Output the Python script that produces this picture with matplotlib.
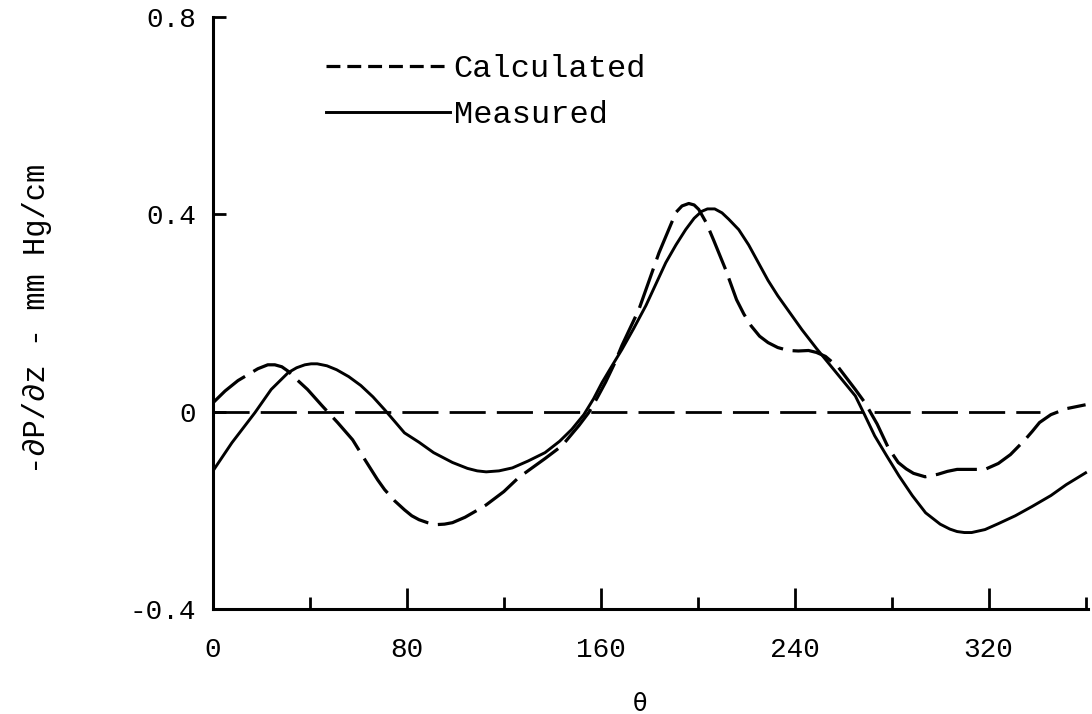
import matplotlib
matplotlib.use("Agg")
import matplotlib.pyplot as plt
from matplotlib.ticker import FixedLocator, FixedFormatter

plt.rcParams['lines.scale_dashes'] = False

# ---- data ----
meas_x = [0, 7.8, 17.3, 24, 31, 34.5, 37.9, 40.5, 43, 47, 51, 56, 61, 66, 70.8, 75, 79, 85,
          91, 98.8, 105, 109, 112.7, 118, 123.5, 130, 137, 143, 148, 153, 157, 160.5,
          164.5, 168.7, 173.5, 178.6, 186.8, 191, 195, 198.5, 201.6, 204, 207, 210,
          212.8, 216.9, 221, 225, 229, 233, 243, 249, 255, 260, 265, 269, 273, 278, 283,
          288.5, 294, 300, 304, 307, 310, 313, 318.5, 324, 331, 338, 345.7, 352, 360]
meas_y = [-0.12, -0.063, -0.002, 0.045, 0.079, 0.089, 0.095, 0.097, 0.097, 0.093, 0.085,
          0.071, 0.053, 0.03, 0.004, -0.02, -0.043, -0.062, -0.083, -0.103, -0.115,
          -0.12, -0.122, -0.12, -0.114, -0.1, -0.083, -0.06, -0.036, -0.006, 0.026,
          0.059, 0.092, 0.126, 0.168, 0.215, 0.302, 0.338, 0.369, 0.392, 0.406, 0.411,
          0.411, 0.403, 0.39, 0.369, 0.338, 0.302, 0.266, 0.235, 0.166, 0.128, 0.092,
          0.062, 0.032, -0.008, -0.049, -0.09, -0.13, -0.17, -0.205, -0.228, -0.238,
          -0.243, -0.245, -0.245, -0.239, -0.227, -0.211, -0.192, -0.17, -0.148, -0.124]

calc_x = [0, 5, 10.3, 14.4, 18.5, 22.6, 25.5, 28.4, 31, 33.7, 39, 45, 51.4, 57.6, 62.5,
          67.9, 70.8, 75, 79, 82, 85, 88.5, 92, 95.5, 98.8, 104, 108.6, 112.7, 120, 126,
          130.5, 137, 144, 151, 155, 158.5, 162, 165.5, 168.7, 175.7, 184, 191, 193.5,
          196.3, 198.5, 200.4, 203.5, 206.6, 211.5, 216, 219, 222, 225.5, 229, 233,
          237.4, 241.5, 245.7, 249, 252.7, 258, 265, 269, 274, 278.6, 282.7, 286, 289,
          293.8, 299, 303, 307, 312, 318.5, 324, 329, 335, 338, 341, 345.7, 352, 360]
calc_y = [0.018, 0.042, 0.063, 0.075, 0.087, 0.095, 0.095, 0.091, 0.082, 0.069, 0.045,
          0.012, -0.022, -0.057, -0.096, -0.138, -0.158, -0.181, -0.199, -0.211, -0.219,
          -0.225, -0.229, -0.228, -0.225, -0.214, -0.201, -0.189, -0.162, -0.134,
          -0.118, -0.095, -0.069, -0.028, -0.002, 0.028, 0.06, 0.096, 0.134, 0.207,
          0.322, 0.404, 0.417, 0.422, 0.419, 0.41, 0.383, 0.347, 0.288, 0.227, 0.198,
          0.174, 0.153, 0.14, 0.13, 0.124, 0.123, 0.124, 0.12, 0.112, 0.09, 0.045,
          0.018, -0.025, -0.073, -0.103, -0.116, -0.125, -0.132, -0.127, -0.121,
          -0.117, -0.117, -0.117, -0.105, -0.087, -0.057, -0.04, -0.022, -0.006,
          0.006, 0.014]

zero_x = [0, 341]
zero_y = [0, 0]

x_major = [0, 80, 160, 240, 320]
x_major_labels = ["0", "80", "160", "240", "320"]
x_minor = [40, 120, 200, 280, 360]
y_ticks = [-0.4, 0, 0.4, 0.8]
y_labels = ["-0.4", "0", "0.4", "0.8"]

mono = ['Liberation Mono', 'DejaVu Sans Mono']

fig = plt.figure(figsize=(10.92, 7.14), dpi=100)
ax = fig.add_axes([213/1092, 1 - 609/714, (1088-213)/1092, (609-17)/714])

ax.plot(zero_x, zero_y, color='black', lw=2.0, dashes=(26, 8))
l_calc, = ax.plot(calc_x, calc_y, color='black', lw=2.3, dashes=(30, 7),
                  solid_joinstyle='round', label='Calculated')
l_meas, = ax.plot(meas_x, meas_y, color='black', lw=2.1, solid_joinstyle='round',
                  label='Measured')

ax.set_xlim(0, 361)
ax.set_ylim(-0.4, 0.8)

for s in ['top', 'right']:
    ax.spines[s].set_visible(False)
for s in ['left', 'bottom']:
    ax.spines[s].set_linewidth(2.2)

ax.xaxis.set_major_locator(FixedLocator(x_major))
ax.xaxis.set_major_formatter(FixedFormatter(x_major_labels))
ax.xaxis.set_minor_locator(FixedLocator(x_minor))
ax.yaxis.set_major_locator(FixedLocator(y_ticks))
ax.yaxis.set_major_formatter(FixedFormatter(y_labels))

ax.tick_params(axis='x', which='major', direction='in', length=15, width=2, pad=20)
ax.tick_params(axis='x', which='minor', direction='in', length=9, width=2)
ax.tick_params(axis='y', which='major', direction='in', length=9, width=2, pad=12)

for lab in ax.get_xticklabels() + ax.get_yticklabels():
    lab.set_fontfamily(mono)
    lab.set_fontsize(20)

ax.set_ylabel("-\u2202P/\u2202z - mm Hg/cm", fontfamily=mono, fontsize=22)
ax.yaxis.set_label_coords(-0.184, 0.49)
ax.set_xlabel("\u03b8", fontsize=17)
ax.xaxis.set_label_coords(0.488, -0.14)

leg = ax.legend(handles=[l_calc, l_meas], loc='upper left',
                bbox_to_anchor=(100/875, 1 - 24/592), frameon=False,
                prop={'family': mono, 'size': 23}, handlelength=3.9,
                handletextpad=0.1, labelspacing=0.5, borderaxespad=0)
leg.get_lines()[0].set_dashes((10, 5))

fig.savefig("out.png", dpi=100)
